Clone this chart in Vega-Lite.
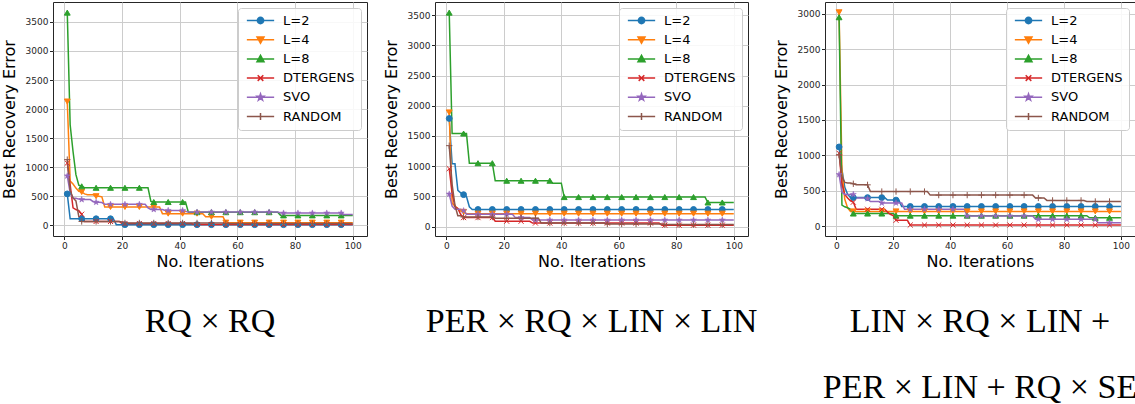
{
  "$schema": "https://vega.github.io/schema/vega-lite/v6.json",
  "padding": {"left": 0, "top": 1, "right": 0, "bottom": 0},
  "spacing": 14,
  "config": {
    "font": "DejaVu Sans",
    "view": {"stroke": "#262626", "strokeWidth": 1},
    "axis": {"domain": false, "grid": true, "gridColor": "#cccccc", "gridWidth": 1, "tickColor": "#262626", "tickSize": 3.5, "labelFont": "DejaVu Sans", "labelFontSize": 9, "labelColor": "#262626", "labelPadding": 1.5, "titleFont": "DejaVu Sans", "titleFontSize": 16, "titleFontWeight": "normal", "titleColor": "#000000", "format": "d"},
    "legend": {"labelFont": "DejaVu Sans", "labelFontSize": 13, "labelColor": "#000000", "symbolSize": 49, "symbolStrokeWidth": 1.5, "symbolOpacity": 1, "symbolOffset": 10, "labelOffset": 16, "rowPadding": 5.2, "padding": 6, "strokeColor": "#cccccc", "fillColor": "rgba(255,255,255,0.85)", "cornerRadius": 3, "offset": 6},
    "title": {"font": "Liberation Serif", "fontSize": 34, "fontWeight": "normal", "color": "#000000"}
  },
  "resolve": {"scale": {"color": "independent", "shape": "independent", "stroke": "independent", "y": "independent", "x": "independent"}, "legend": {"color": "independent", "shape": "independent", "stroke": "independent"}},
  "datasets": {
    "p1": [
      {"x": 1, "L=2": 540, "L=4": 2130, "L=8": 3660, "DTERGENS": 1070, "SVO": 850, "RANDOM": 1130},
      {"x": 2, "L=2": 112, "L=4": 760, "L=8": 1730, "DTERGENS": 700, "SVO": 560, "RANDOM": 600},
      {"x": 3, "L=2": 112, "L=4": 710, "L=8": 1270, "DTERGENS": 300, "SVO": 465, "RANDOM": 470},
      {"x": 4, "L=2": 112, "L=4": 640, "L=8": 870, "DTERGENS": 270, "SVO": 465, "RANDOM": 420},
      {"x": 5, "L=2": 112, "L=4": 585, "L=8": 690, "DTERGENS": 250, "SVO": 450, "RANDOM": 150},
      {"x": 6, "L=2": 112, "L=4": 573, "L=8": 670, "DTERGENS": 190, "SVO": 442, "RANDOM": 65},
      {"x": 7, "L=2": 112, "L=4": 540, "L=8": 645, "DTERGENS": 65, "SVO": 442, "RANDOM": 65},
      {"x": 8, "L=2": 112, "L=4": 525, "L=8": 645, "DTERGENS": 65, "SVO": 442, "RANDOM": 65},
      {"x": 9, "L=2": 112, "L=4": 525, "L=8": 645, "DTERGENS": 65, "SVO": 442, "RANDOM": 65},
      {"x": 10, "L=2": 112, "L=4": 525, "L=8": 645, "DTERGENS": 65, "SVO": 405, "RANDOM": 65},
      {"x": 11, "L=2": 112, "L=4": 500, "L=8": 645, "DTERGENS": 65, "SVO": 396, "RANDOM": 65},
      {"x": 12, "L=2": 112, "L=4": 500, "L=8": 645, "DTERGENS": 65, "SVO": 396, "RANDOM": 65},
      {"x": 13, "L=2": 112, "L=4": 490, "L=8": 645, "DTERGENS": 65, "SVO": 390, "RANDOM": 65},
      {"x": 14, "L=2": 112, "L=4": 315, "L=8": 645, "DTERGENS": 65, "SVO": 360, "RANDOM": 65},
      {"x": 16, "L=2": 112, "L=4": 315, "L=8": 645, "DTERGENS": 65, "SVO": 360, "RANDOM": 65},
      {"x": 17, "L=2": 112, "L=4": 315, "L=8": 645, "DTERGENS": 65, "SVO": 360, "RANDOM": 65},
      {"x": 18, "L=2": 10, "L=4": 315, "L=8": 645, "DTERGENS": 65, "SVO": 360, "RANDOM": 65},
      {"x": 19, "L=2": 10, "L=4": 315, "L=8": 645, "DTERGENS": 65, "SVO": 360, "RANDOM": 65},
      {"x": 20, "L=2": 10, "L=4": 315, "L=8": 645, "DTERGENS": 30, "SVO": 360, "RANDOM": 55},
      {"x": 21, "L=2": 10, "L=4": 315, "L=8": 645, "DTERGENS": 30, "SVO": 360, "RANDOM": 40},
      {"x": 26, "L=2": 10, "L=4": 315, "L=8": 645, "DTERGENS": 30, "SVO": 360, "RANDOM": 40},
      {"x": 28, "L=2": 10, "L=4": 315, "L=8": 645, "DTERGENS": 30, "SVO": 360, "RANDOM": 40},
      {"x": 29, "L=2": 10, "L=4": 315, "L=8": 645, "DTERGENS": 30, "SVO": 300, "RANDOM": 40},
      {"x": 30, "L=2": 10, "L=4": 315, "L=8": 410, "DTERGENS": 30, "SVO": 272, "RANDOM": 40},
      {"x": 31, "L=2": 10, "L=4": 315, "L=8": 400, "DTERGENS": 30, "SVO": 272, "RANDOM": 40},
      {"x": 33, "L=2": 10, "L=4": 315, "L=8": 400, "DTERGENS": 30, "SVO": 272, "RANDOM": 40},
      {"x": 34, "L=2": 10, "L=4": 200, "L=8": 400, "DTERGENS": 30, "SVO": 272, "RANDOM": 40},
      {"x": 35, "L=2": 10, "L=4": 200, "L=8": 400, "DTERGENS": 30, "SVO": 255, "RANDOM": 40},
      {"x": 36, "L=2": 10, "L=4": 200, "L=8": 400, "DTERGENS": 30, "SVO": 255, "RANDOM": 40},
      {"x": 41, "L=2": 10, "L=4": 200, "L=8": 400, "DTERGENS": 30, "SVO": 255, "RANDOM": 40},
      {"x": 42, "L=2": 10, "L=4": 200, "L=8": 400, "DTERGENS": 30, "SVO": 241, "RANDOM": 40},
      {"x": 43, "L=2": 10, "L=4": 200, "L=8": 225, "DTERGENS": 30, "SVO": 226, "RANDOM": 40},
      {"x": 44, "L=2": 10, "L=4": 200, "L=8": 225, "DTERGENS": 30, "SVO": 226, "RANDOM": 40},
      {"x": 45, "L=2": 10, "L=4": 200, "L=8": 225, "DTERGENS": 12, "SVO": 226, "RANDOM": 40},
      {"x": 46, "L=2": 10, "L=4": 200, "L=8": 225, "DTERGENS": 12, "SVO": 226, "RANDOM": 40},
      {"x": 48, "L=2": 10, "L=4": 200, "L=8": 225, "DTERGENS": 12, "SVO": 226, "RANDOM": 40},
      {"x": 49, "L=2": 10, "L=4": 148, "L=8": 225, "DTERGENS": 12, "SVO": 226, "RANDOM": 40},
      {"x": 51, "L=2": 10, "L=4": 148, "L=8": 225, "DTERGENS": 12, "SVO": 226, "RANDOM": 40},
      {"x": 55, "L=2": 10, "L=4": 148, "L=8": 225, "DTERGENS": 12, "SVO": 226, "RANDOM": 40},
      {"x": 56, "L=2": 10, "L=4": 45, "L=8": 225, "DTERGENS": 12, "SVO": 226, "RANDOM": 30},
      {"x": 61, "L=2": 10, "L=4": 45, "L=8": 225, "DTERGENS": 12, "SVO": 226, "RANDOM": 30},
      {"x": 66, "L=2": 10, "L=4": 45, "L=8": 225, "DTERGENS": 12, "SVO": 226, "RANDOM": 30},
      {"x": 71, "L=2": 10, "L=4": 45, "L=8": 225, "DTERGENS": 12, "SVO": 226, "RANDOM": 30},
      {"x": 74, "L=2": 10, "L=4": 45, "L=8": 225, "DTERGENS": 12, "SVO": 226, "RANDOM": 30},
      {"x": 75, "L=2": 10, "L=4": 45, "L=8": 170, "DTERGENS": 12, "SVO": 210, "RANDOM": 30},
      {"x": 76, "L=2": 10, "L=4": 45, "L=8": 170, "DTERGENS": 12, "SVO": 210, "RANDOM": 30},
      {"x": 81, "L=2": 10, "L=4": 45, "L=8": 170, "DTERGENS": 12, "SVO": 210, "RANDOM": 30},
      {"x": 86, "L=2": 10, "L=4": 45, "L=8": 170, "DTERGENS": 12, "SVO": 210, "RANDOM": 30},
      {"x": 91, "L=2": 10, "L=4": 45, "L=8": 170, "DTERGENS": 12, "SVO": 210, "RANDOM": 30},
      {"x": 96, "L=2": 10, "L=4": 45, "L=8": 170, "DTERGENS": 12, "SVO": 210, "RANDOM": 30},
      {"x": 97, "L=2": 10, "L=4": 45, "L=8": 170, "DTERGENS": 12, "SVO": 185, "RANDOM": 30},
      {"x": 100, "L=2": 10, "L=4": 45, "L=8": 170, "DTERGENS": 12, "SVO": 185, "RANDOM": 30}
    ],
    "p2": [
      {"x": 1, "L=2": 1790, "L=4": 1890, "L=8": 3540, "DTERGENS": 960, "SVO": 540, "RANDOM": 1340},
      {"x": 2, "L=2": 1040, "L=4": 390, "L=8": 1540, "DTERGENS": 560, "SVO": 340, "RANDOM": 700},
      {"x": 3, "L=2": 1040, "L=4": 340, "L=8": 1540, "DTERGENS": 330, "SVO": 290, "RANDOM": 350},
      {"x": 4, "L=2": 600, "L=4": 300, "L=8": 1540, "DTERGENS": 300, "SVO": 290, "RANDOM": 180},
      {"x": 5, "L=2": 560, "L=4": 260, "L=8": 1540, "DTERGENS": 200, "SVO": 290, "RANDOM": 180},
      {"x": 6, "L=2": 530, "L=4": 245, "L=8": 1540, "DTERGENS": 150, "SVO": 265, "RANDOM": 160},
      {"x": 7, "L=2": 500, "L=4": 215, "L=8": 1540, "DTERGENS": 150, "SVO": 205, "RANDOM": 160},
      {"x": 8, "L=2": 330, "L=4": 215, "L=8": 1050, "DTERGENS": 150, "SVO": 205, "RANDOM": 160},
      {"x": 9, "L=2": 285, "L=4": 215, "L=8": 1050, "DTERGENS": 150, "SVO": 205, "RANDOM": 160},
      {"x": 11, "L=2": 285, "L=4": 215, "L=8": 1050, "DTERGENS": 150, "SVO": 205, "RANDOM": 160},
      {"x": 16, "L=2": 285, "L=4": 215, "L=8": 1050, "DTERGENS": 150, "SVO": 205, "RANDOM": 160},
      {"x": 17, "L=2": 285, "L=4": 215, "L=8": 760, "DTERGENS": 90, "SVO": 205, "RANDOM": 140},
      {"x": 21, "L=2": 285, "L=4": 215, "L=8": 760, "DTERGENS": 90, "SVO": 205, "RANDOM": 140},
      {"x": 23, "L=2": 285, "L=4": 215, "L=8": 760, "DTERGENS": 90, "SVO": 205, "RANDOM": 140},
      {"x": 24, "L=2": 285, "L=4": 215, "L=8": 760, "DTERGENS": 90, "SVO": 150, "RANDOM": 140},
      {"x": 26, "L=2": 285, "L=4": 215, "L=8": 760, "DTERGENS": 90, "SVO": 150, "RANDOM": 140},
      {"x": 29, "L=2": 285, "L=4": 215, "L=8": 760, "DTERGENS": 90, "SVO": 150, "RANDOM": 140},
      {"x": 30, "L=2": 285, "L=4": 215, "L=8": 760, "DTERGENS": 60, "SVO": 110, "RANDOM": 140},
      {"x": 31, "L=2": 285, "L=4": 215, "L=8": 760, "DTERGENS": 60, "SVO": 110, "RANDOM": 140},
      {"x": 32, "L=2": 285, "L=4": 215, "L=8": 760, "DTERGENS": 60, "SVO": 110, "RANDOM": 140},
      {"x": 33, "L=2": 285, "L=4": 215, "L=8": 760, "DTERGENS": 60, "SVO": 110, "RANDOM": 60},
      {"x": 36, "L=2": 285, "L=4": 215, "L=8": 760, "DTERGENS": 60, "SVO": 110, "RANDOM": 60},
      {"x": 37, "L=2": 285, "L=4": 215, "L=8": 720, "DTERGENS": 60, "SVO": 110, "RANDOM": 60},
      {"x": 40, "L=2": 285, "L=4": 215, "L=8": 720, "DTERGENS": 60, "SVO": 110, "RANDOM": 60},
      {"x": 41, "L=2": 285, "L=4": 215, "L=8": 490, "DTERGENS": 60, "SVO": 110, "RANDOM": 60},
      {"x": 46, "L=2": 285, "L=4": 215, "L=8": 490, "DTERGENS": 60, "SVO": 110, "RANDOM": 60},
      {"x": 51, "L=2": 285, "L=4": 215, "L=8": 490, "DTERGENS": 60, "SVO": 110, "RANDOM": 60},
      {"x": 55, "L=2": 285, "L=4": 215, "L=8": 490, "DTERGENS": 60, "SVO": 110, "RANDOM": 60},
      {"x": 56, "L=2": 285, "L=4": 215, "L=8": 490, "DTERGENS": 60, "SVO": 110, "RANDOM": 45},
      {"x": 61, "L=2": 285, "L=4": 215, "L=8": 490, "DTERGENS": 60, "SVO": 110, "RANDOM": 45},
      {"x": 66, "L=2": 285, "L=4": 215, "L=8": 490, "DTERGENS": 60, "SVO": 110, "RANDOM": 45},
      {"x": 71, "L=2": 285, "L=4": 215, "L=8": 490, "DTERGENS": 60, "SVO": 110, "RANDOM": 45},
      {"x": 74, "L=2": 285, "L=4": 215, "L=8": 490, "DTERGENS": 60, "SVO": 110, "RANDOM": 45},
      {"x": 75, "L=2": 285, "L=4": 215, "L=8": 490, "DTERGENS": 25, "SVO": 110, "RANDOM": 45},
      {"x": 76, "L=2": 285, "L=4": 215, "L=8": 490, "DTERGENS": 25, "SVO": 110, "RANDOM": 35},
      {"x": 81, "L=2": 285, "L=4": 215, "L=8": 490, "DTERGENS": 25, "SVO": 110, "RANDOM": 35},
      {"x": 86, "L=2": 285, "L=4": 215, "L=8": 490, "DTERGENS": 25, "SVO": 110, "RANDOM": 35},
      {"x": 90, "L=2": 285, "L=4": 215, "L=8": 490, "DTERGENS": 25, "SVO": 110, "RANDOM": 35},
      {"x": 91, "L=2": 285, "L=4": 215, "L=8": 400, "DTERGENS": 25, "SVO": 110, "RANDOM": 35},
      {"x": 96, "L=2": 285, "L=4": 215, "L=8": 400, "DTERGENS": 25, "SVO": 110, "RANDOM": 35},
      {"x": 100, "L=2": 285, "L=4": 215, "L=8": 400, "DTERGENS": 25, "SVO": 110, "RANDOM": 35}
    ],
    "p3": [
      {"x": 1, "L=2": 1120, "L=4": 3020, "L=8": 2950, "DTERGENS": 1030, "SVO": 730, "RANDOM": 1010},
      {"x": 2, "L=2": 800, "L=4": 800, "L=8": 300, "DTERGENS": 600, "SVO": 480, "RANDOM": 700},
      {"x": 3, "L=2": 550, "L=4": 380, "L=8": 275, "DTERGENS": 450, "SVO": 450, "RANDOM": 620},
      {"x": 4, "L=2": 450, "L=4": 260, "L=8": 262, "DTERGENS": 400, "SVO": 450, "RANDOM": 610},
      {"x": 5, "L=2": 405, "L=4": 210, "L=8": 240, "DTERGENS": 360, "SVO": 450, "RANDOM": 610},
      {"x": 6, "L=2": 405, "L=4": 210, "L=8": 180, "DTERGENS": 340, "SVO": 450, "RANDOM": 600},
      {"x": 7, "L=2": 405, "L=4": 210, "L=8": 180, "DTERGENS": 240, "SVO": 400, "RANDOM": 585},
      {"x": 10, "L=2": 405, "L=4": 210, "L=8": 180, "DTERGENS": 240, "SVO": 400, "RANDOM": 585},
      {"x": 11, "L=2": 405, "L=4": 210, "L=8": 180, "DTERGENS": 240, "SVO": 390, "RANDOM": 585},
      {"x": 12, "L=2": 405, "L=4": 210, "L=8": 180, "DTERGENS": 240, "SVO": 350, "RANDOM": 490},
      {"x": 15, "L=2": 405, "L=4": 210, "L=8": 180, "DTERGENS": 240, "SVO": 350, "RANDOM": 490},
      {"x": 16, "L=2": 405, "L=4": 210, "L=8": 180, "DTERGENS": 240, "SVO": 330, "RANDOM": 490},
      {"x": 17, "L=2": 405, "L=4": 210, "L=8": 180, "DTERGENS": 240, "SVO": 330, "RANDOM": 490},
      {"x": 18, "L=2": 370, "L=4": 210, "L=8": 180, "DTERGENS": 200, "SVO": 330, "RANDOM": 490},
      {"x": 19, "L=2": 370, "L=4": 210, "L=8": 180, "DTERGENS": 170, "SVO": 330, "RANDOM": 490},
      {"x": 20, "L=2": 370, "L=4": 210, "L=8": 180, "DTERGENS": 150, "SVO": 330, "RANDOM": 490},
      {"x": 21, "L=2": 370, "L=4": 210, "L=8": 150, "DTERGENS": 85, "SVO": 330, "RANDOM": 490},
      {"x": 22, "L=2": 370, "L=4": 210, "L=8": 150, "DTERGENS": 85, "SVO": 330, "RANDOM": 490},
      {"x": 23, "L=2": 280, "L=4": 210, "L=8": 150, "DTERGENS": 85, "SVO": 330, "RANDOM": 490},
      {"x": 24, "L=2": 280, "L=4": 210, "L=8": 150, "DTERGENS": 85, "SVO": 240, "RANDOM": 490},
      {"x": 25, "L=2": 280, "L=4": 210, "L=8": 150, "DTERGENS": 85, "SVO": 240, "RANDOM": 490},
      {"x": 26, "L=2": 280, "L=4": 210, "L=8": 150, "DTERGENS": 18, "SVO": 240, "RANDOM": 490},
      {"x": 31, "L=2": 280, "L=4": 210, "L=8": 150, "DTERGENS": 18, "SVO": 240, "RANDOM": 490},
      {"x": 32, "L=2": 280, "L=4": 210, "L=8": 150, "DTERGENS": 18, "SVO": 240, "RANDOM": 490},
      {"x": 33, "L=2": 280, "L=4": 210, "L=8": 150, "DTERGENS": 18, "SVO": 240, "RANDOM": 440},
      {"x": 36, "L=2": 280, "L=4": 210, "L=8": 150, "DTERGENS": 18, "SVO": 240, "RANDOM": 440},
      {"x": 41, "L=2": 280, "L=4": 210, "L=8": 150, "DTERGENS": 18, "SVO": 240, "RANDOM": 440},
      {"x": 45, "L=2": 280, "L=4": 210, "L=8": 150, "DTERGENS": 18, "SVO": 240, "RANDOM": 440},
      {"x": 46, "L=2": 280, "L=4": 210, "L=8": 150, "DTERGENS": 18, "SVO": 145, "RANDOM": 440},
      {"x": 51, "L=2": 280, "L=4": 210, "L=8": 150, "DTERGENS": 18, "SVO": 145, "RANDOM": 440},
      {"x": 56, "L=2": 280, "L=4": 210, "L=8": 150, "DTERGENS": 18, "SVO": 145, "RANDOM": 440},
      {"x": 61, "L=2": 280, "L=4": 210, "L=8": 150, "DTERGENS": 18, "SVO": 145, "RANDOM": 440},
      {"x": 66, "L=2": 280, "L=4": 210, "L=8": 150, "DTERGENS": 18, "SVO": 145, "RANDOM": 440},
      {"x": 69, "L=2": 280, "L=4": 210, "L=8": 150, "DTERGENS": 18, "SVO": 145, "RANDOM": 440},
      {"x": 70, "L=2": 280, "L=4": 210, "L=8": 150, "DTERGENS": 18, "SVO": 100, "RANDOM": 400},
      {"x": 71, "L=2": 280, "L=4": 210, "L=8": 150, "DTERGENS": 18, "SVO": 100, "RANDOM": 400},
      {"x": 73, "L=2": 280, "L=4": 210, "L=8": 150, "DTERGENS": 18, "SVO": 100, "RANDOM": 400},
      {"x": 74, "L=2": 280, "L=4": 210, "L=8": 150, "DTERGENS": 18, "SVO": 100, "RANDOM": 365},
      {"x": 76, "L=2": 280, "L=4": 210, "L=8": 150, "DTERGENS": 18, "SVO": 100, "RANDOM": 365},
      {"x": 81, "L=2": 280, "L=4": 210, "L=8": 150, "DTERGENS": 18, "SVO": 100, "RANDOM": 365},
      {"x": 86, "L=2": 280, "L=4": 210, "L=8": 150, "DTERGENS": 18, "SVO": 100, "RANDOM": 365},
      {"x": 87, "L=2": 280, "L=4": 210, "L=8": 150, "DTERGENS": 18, "SVO": 100, "RANDOM": 365},
      {"x": 88, "L=2": 280, "L=4": 210, "L=8": 150, "DTERGENS": 18, "SVO": 100, "RANDOM": 350},
      {"x": 89, "L=2": 280, "L=4": 210, "L=8": 120, "DTERGENS": 18, "SVO": 100, "RANDOM": 350},
      {"x": 91, "L=2": 280, "L=4": 210, "L=8": 120, "DTERGENS": 18, "SVO": 100, "RANDOM": 350},
      {"x": 92, "L=2": 280, "L=4": 210, "L=8": 120, "DTERGENS": 18, "SVO": 50, "RANDOM": 350},
      {"x": 96, "L=2": 280, "L=4": 210, "L=8": 120, "DTERGENS": 18, "SVO": 50, "RANDOM": 350},
      {"x": 100, "L=2": 280, "L=4": 210, "L=8": 120, "DTERGENS": 18, "SVO": 50, "RANDOM": 350}
    ]
  },
  "hconcat": [
    {
      "width": 314, "height": 234,
      "data": {"name": "p1"},
      "transform": [{"fold": ["L=2", "L=4", "L=8", "DTERGENS", "SVO", "RANDOM"], "as": ["series", "err"]}],
      "title": {"text": "RQ × RQ", "orient": "bottom", "anchor": "middle", "baseline": "top", "offset": 36, "lineHeight": 66},
      "encoding": {
        "x": {"field": "x", "type": "quantitative", "scale": {"domain": [-3.95, 104.95], "nice": false, "zero": false}, "axis": {"title": "No. Iterations", "values": [0, 20, 40, 60, 80, 100], "titlePadding": 3}},
        "y": {"field": "err", "type": "quantitative", "scale": {"domain": [-185, 3843], "nice": false, "zero": false}, "axis": {"title": "Best Recovery Error", "values": [0, 500, 1000, 1500, 2000, 2500, 3000, 3500], "titlePadding": 8}}
      },
      "layer": [
        {"transform": [{"filter": "datum.x < 0"}], "mark": {"type": "point", "filled": true, "opacity": 1, "strokeWidth": 1.5},
         "encoding": {
           "color": {"field": "series", "type": "nominal", "scale": {"domain": ["L=2", "L=4", "L=8", "DTERGENS", "SVO", "RANDOM"], "range": ["#1f77b4", "#ff7f0e", "#2ca02c", "#d62728", "#9467bd", "#8c564b"]}, "legend": {"title": null, "orient": "top-right"}},
           "stroke": {"field": "series", "type": "nominal", "scale": {"domain": ["L=2", "L=4", "L=8", "DTERGENS", "SVO", "RANDOM"], "range": ["#1f77b4", "#ff7f0e", "#2ca02c", "#d62728", "#9467bd", "#8c564b"]}, "legend": {"title": null, "orient": "top-right"}},
           "shape": {"field": "series", "type": "nominal", "scale": {"domain": ["L=2", "L=4", "L=8", "DTERGENS", "SVO", "RANDOM"], "range": ["M-3.9,0H3.9M-0.9,0A0.9,0.9,0,1,0,0.9,0A0.9,0.9,0,1,0,-0.9,0Z", "M-3.9,0H3.9M-1,-0.8L1,-0.8L0,1Z", "M-3.9,0H3.9M-1,0.8L1,0.8L0,-1Z", "M-3.9,0H3.9M-0.8,-0.8L0.8,0.8M-0.8,0.8L0.8,-0.8", "M-3.9,0H3.9M0,-1L0.235,-0.324L0.951,-0.309L0.38,0.124L0.588,0.809L0,0.4L-0.588,0.809L-0.38,0.124L-0.951,-0.309L-0.235,-0.324Z", "M-3.9,0H3.9M0,-1V1"]}, "legend": {"title": null, "orient": "top-right"}}
         }},
        {"mark": {"type": "line", "strokeWidth": 1.5, "clip": true}, "encoding": {"color": {"field": "series", "type": "nominal", "scale": {"domain": ["L=2", "L=4", "L=8", "DTERGENS", "SVO", "RANDOM"], "range": ["#1f77b4", "#ff7f0e", "#2ca02c", "#d62728", "#9467bd", "#8c564b"]}}}},
        {"transform": [{"filter": "datum.x % 5 == 1 && datum.series == 'L=2'"}], "mark": {"type": "point", "shape": "circle", "filled": true, "opacity": 1, "size": 34, "color": "#1f77b4", "stroke": "#1f77b4", "strokeWidth": 1, "clip": true}, "encoding": {}},
        {"transform": [{"filter": "datum.x % 5 == 1 && datum.series == 'L=4'"}], "mark": {"type": "point", "shape": "triangle-down", "filled": true, "opacity": 1, "size": 34, "color": "#ff7f0e", "stroke": "#ff7f0e", "strokeWidth": 1, "clip": true}, "encoding": {}},
        {"transform": [{"filter": "datum.x % 5 == 1 && datum.series == 'L=8'"}], "mark": {"type": "point", "shape": "triangle-up", "filled": true, "opacity": 1, "size": 34, "color": "#2ca02c", "stroke": "#2ca02c", "strokeWidth": 1, "clip": true}, "encoding": {}},
        {"transform": [{"filter": "datum.x % 5 == 1 && datum.series == 'DTERGENS'"}], "mark": {"type": "point", "shape": "M-0.8,-0.8L0.8,0.8M-0.8,0.8L0.8,-0.8", "filled": true, "opacity": 1, "size": 40, "color": "#d62728", "stroke": "#d62728", "strokeWidth": 1, "clip": true}, "encoding": {}},
        {"transform": [{"filter": "datum.x % 5 == 1 && datum.series == 'SVO'"}], "mark": {"type": "point", "shape": "M0,-1L0.235,-0.324L0.951,-0.309L0.38,0.124L0.588,0.809L0,0.4L-0.588,0.809L-0.38,0.124L-0.951,-0.309L-0.235,-0.324Z", "filled": true, "opacity": 1, "size": 40, "color": "#9467bd", "stroke": "#9467bd", "strokeWidth": 0.5, "clip": true}, "encoding": {}},
        {"transform": [{"filter": "datum.x % 5 == 1 && datum.series == 'RANDOM'"}], "mark": {"type": "point", "shape": "M-1,0H1M0,-1V1", "filled": true, "opacity": 1, "size": 40, "color": "#8c564b", "stroke": "#8c564b", "strokeWidth": 1, "clip": true}, "encoding": {}}
      ]
    },
    {
      "width": 313, "height": 234,
      "data": {"name": "p2"},
      "transform": [{"fold": ["L=2", "L=4", "L=8", "DTERGENS", "SVO", "RANDOM"], "as": ["series", "err"]}],
      "title": {"text": "PER × RQ × LIN × LIN", "orient": "bottom", "anchor": "middle", "baseline": "top", "offset": 36, "lineHeight": 66},
      "encoding": {
        "x": {"field": "x", "type": "quantitative", "scale": {"domain": [-3.95, 104.95], "nice": false, "zero": false}, "axis": {"title": "No. Iterations", "values": [0, 20, 40, 60, 80, 100], "titlePadding": 3}},
        "y": {"field": "err", "type": "quantitative", "scale": {"domain": [-154, 3716], "nice": false, "zero": false}, "axis": {"title": "Best Recovery Error", "values": [0, 500, 1000, 1500, 2000, 2500, 3000, 3500], "titlePadding": 8}}
      },
      "layer": [
        {"transform": [{"filter": "datum.x < 0"}], "mark": {"type": "point", "filled": true, "opacity": 1, "strokeWidth": 1.5},
         "encoding": {
           "color": {"field": "series", "type": "nominal", "scale": {"domain": ["L=2", "L=4", "L=8", "DTERGENS", "SVO", "RANDOM"], "range": ["#1f77b4", "#ff7f0e", "#2ca02c", "#d62728", "#9467bd", "#8c564b"]}, "legend": {"title": null, "orient": "top-right"}},
           "stroke": {"field": "series", "type": "nominal", "scale": {"domain": ["L=2", "L=4", "L=8", "DTERGENS", "SVO", "RANDOM"], "range": ["#1f77b4", "#ff7f0e", "#2ca02c", "#d62728", "#9467bd", "#8c564b"]}, "legend": {"title": null, "orient": "top-right"}},
           "shape": {"field": "series", "type": "nominal", "scale": {"domain": ["L=2", "L=4", "L=8", "DTERGENS", "SVO", "RANDOM"], "range": ["M-3.9,0H3.9M-0.9,0A0.9,0.9,0,1,0,0.9,0A0.9,0.9,0,1,0,-0.9,0Z", "M-3.9,0H3.9M-1,-0.8L1,-0.8L0,1Z", "M-3.9,0H3.9M-1,0.8L1,0.8L0,-1Z", "M-3.9,0H3.9M-0.8,-0.8L0.8,0.8M-0.8,0.8L0.8,-0.8", "M-3.9,0H3.9M0,-1L0.235,-0.324L0.951,-0.309L0.38,0.124L0.588,0.809L0,0.4L-0.588,0.809L-0.38,0.124L-0.951,-0.309L-0.235,-0.324Z", "M-3.9,0H3.9M0,-1V1"]}, "legend": {"title": null, "orient": "top-right"}}
         }},
        {"mark": {"type": "line", "strokeWidth": 1.5, "clip": true}, "encoding": {"color": {"field": "series", "type": "nominal", "scale": {"domain": ["L=2", "L=4", "L=8", "DTERGENS", "SVO", "RANDOM"], "range": ["#1f77b4", "#ff7f0e", "#2ca02c", "#d62728", "#9467bd", "#8c564b"]}}}},
        {"transform": [{"filter": "datum.x % 5 == 1 && datum.series == 'L=2'"}], "mark": {"type": "point", "shape": "circle", "filled": true, "opacity": 1, "size": 34, "color": "#1f77b4", "stroke": "#1f77b4", "strokeWidth": 1, "clip": true}, "encoding": {}},
        {"transform": [{"filter": "datum.x % 5 == 1 && datum.series == 'L=4'"}], "mark": {"type": "point", "shape": "triangle-down", "filled": true, "opacity": 1, "size": 34, "color": "#ff7f0e", "stroke": "#ff7f0e", "strokeWidth": 1, "clip": true}, "encoding": {}},
        {"transform": [{"filter": "datum.x % 5 == 1 && datum.series == 'L=8'"}], "mark": {"type": "point", "shape": "triangle-up", "filled": true, "opacity": 1, "size": 34, "color": "#2ca02c", "stroke": "#2ca02c", "strokeWidth": 1, "clip": true}, "encoding": {}},
        {"transform": [{"filter": "datum.x % 5 == 1 && datum.series == 'DTERGENS'"}], "mark": {"type": "point", "shape": "M-0.8,-0.8L0.8,0.8M-0.8,0.8L0.8,-0.8", "filled": true, "opacity": 1, "size": 40, "color": "#d62728", "stroke": "#d62728", "strokeWidth": 1, "clip": true}, "encoding": {}},
        {"transform": [{"filter": "datum.x % 5 == 1 && datum.series == 'SVO'"}], "mark": {"type": "point", "shape": "M0,-1L0.235,-0.324L0.951,-0.309L0.38,0.124L0.588,0.809L0,0.4L-0.588,0.809L-0.38,0.124L-0.951,-0.309L-0.235,-0.324Z", "filled": true, "opacity": 1, "size": 40, "color": "#9467bd", "stroke": "#9467bd", "strokeWidth": 0.5, "clip": true}, "encoding": {}},
        {"transform": [{"filter": "datum.x % 5 == 1 && datum.series == 'RANDOM'"}], "mark": {"type": "point", "shape": "M-1,0H1M0,-1V1", "filled": true, "opacity": 1, "size": 40, "color": "#8c564b", "stroke": "#8c564b", "strokeWidth": 1, "clip": true}, "encoding": {}}
      ]
    },
    {
      "width": 310, "height": 234,
      "data": {"name": "p3"},
      "transform": [{"fold": ["L=2", "L=4", "L=8", "DTERGENS", "SVO", "RANDOM"], "as": ["series", "err"]}],
      "title": {"text": ["LIN × RQ × LIN +", "PER × LIN + RQ × SE"], "orient": "bottom", "anchor": "middle", "baseline": "top", "offset": 36, "lineHeight": 66},
      "encoding": {
        "x": {"field": "x", "type": "quantitative", "scale": {"domain": [-3.95, 104.95], "nice": false, "zero": false}, "axis": {"title": "No. Iterations", "values": [0, 20, 40, 60, 80, 100], "titlePadding": 3}},
        "y": {"field": "err", "type": "quantitative", "scale": {"domain": [-137, 3165], "nice": false, "zero": false}, "axis": {"title": "Best Recovery Error", "values": [0, 500, 1000, 1500, 2000, 2500, 3000], "titlePadding": 8}}
      },
      "layer": [
        {"transform": [{"filter": "datum.x < 0"}], "mark": {"type": "point", "filled": true, "opacity": 1, "strokeWidth": 1.5},
         "encoding": {
           "color": {"field": "series", "type": "nominal", "scale": {"domain": ["L=2", "L=4", "L=8", "DTERGENS", "SVO", "RANDOM"], "range": ["#1f77b4", "#ff7f0e", "#2ca02c", "#d62728", "#9467bd", "#8c564b"]}, "legend": {"title": null, "orient": "top-right"}},
           "stroke": {"field": "series", "type": "nominal", "scale": {"domain": ["L=2", "L=4", "L=8", "DTERGENS", "SVO", "RANDOM"], "range": ["#1f77b4", "#ff7f0e", "#2ca02c", "#d62728", "#9467bd", "#8c564b"]}, "legend": {"title": null, "orient": "top-right"}},
           "shape": {"field": "series", "type": "nominal", "scale": {"domain": ["L=2", "L=4", "L=8", "DTERGENS", "SVO", "RANDOM"], "range": ["M-3.9,0H3.9M-0.9,0A0.9,0.9,0,1,0,0.9,0A0.9,0.9,0,1,0,-0.9,0Z", "M-3.9,0H3.9M-1,-0.8L1,-0.8L0,1Z", "M-3.9,0H3.9M-1,0.8L1,0.8L0,-1Z", "M-3.9,0H3.9M-0.8,-0.8L0.8,0.8M-0.8,0.8L0.8,-0.8", "M-3.9,0H3.9M0,-1L0.235,-0.324L0.951,-0.309L0.38,0.124L0.588,0.809L0,0.4L-0.588,0.809L-0.38,0.124L-0.951,-0.309L-0.235,-0.324Z", "M-3.9,0H3.9M0,-1V1"]}, "legend": {"title": null, "orient": "top-right"}}
         }},
        {"mark": {"type": "line", "strokeWidth": 1.5, "clip": true}, "encoding": {"color": {"field": "series", "type": "nominal", "scale": {"domain": ["L=2", "L=4", "L=8", "DTERGENS", "SVO", "RANDOM"], "range": ["#1f77b4", "#ff7f0e", "#2ca02c", "#d62728", "#9467bd", "#8c564b"]}}}},
        {"transform": [{"filter": "datum.x % 5 == 1 && datum.series == 'L=2'"}], "mark": {"type": "point", "shape": "circle", "filled": true, "opacity": 1, "size": 34, "color": "#1f77b4", "stroke": "#1f77b4", "strokeWidth": 1, "clip": true}, "encoding": {}},
        {"transform": [{"filter": "datum.x % 5 == 1 && datum.series == 'L=4'"}], "mark": {"type": "point", "shape": "triangle-down", "filled": true, "opacity": 1, "size": 34, "color": "#ff7f0e", "stroke": "#ff7f0e", "strokeWidth": 1, "clip": true}, "encoding": {}},
        {"transform": [{"filter": "datum.x % 5 == 1 && datum.series == 'L=8'"}], "mark": {"type": "point", "shape": "triangle-up", "filled": true, "opacity": 1, "size": 34, "color": "#2ca02c", "stroke": "#2ca02c", "strokeWidth": 1, "clip": true}, "encoding": {}},
        {"transform": [{"filter": "datum.x % 5 == 1 && datum.series == 'DTERGENS'"}], "mark": {"type": "point", "shape": "M-0.8,-0.8L0.8,0.8M-0.8,0.8L0.8,-0.8", "filled": true, "opacity": 1, "size": 40, "color": "#d62728", "stroke": "#d62728", "strokeWidth": 1, "clip": true}, "encoding": {}},
        {"transform": [{"filter": "datum.x % 5 == 1 && datum.series == 'SVO'"}], "mark": {"type": "point", "shape": "M0,-1L0.235,-0.324L0.951,-0.309L0.38,0.124L0.588,0.809L0,0.4L-0.588,0.809L-0.38,0.124L-0.951,-0.309L-0.235,-0.324Z", "filled": true, "opacity": 1, "size": 40, "color": "#9467bd", "stroke": "#9467bd", "strokeWidth": 0.5, "clip": true}, "encoding": {}},
        {"transform": [{"filter": "datum.x % 5 == 1 && datum.series == 'RANDOM'"}], "mark": {"type": "point", "shape": "M-1,0H1M0,-1V1", "filled": true, "opacity": 1, "size": 40, "color": "#8c564b", "stroke": "#8c564b", "strokeWidth": 1, "clip": true}, "encoding": {}}
      ]
    }
  ]
}
